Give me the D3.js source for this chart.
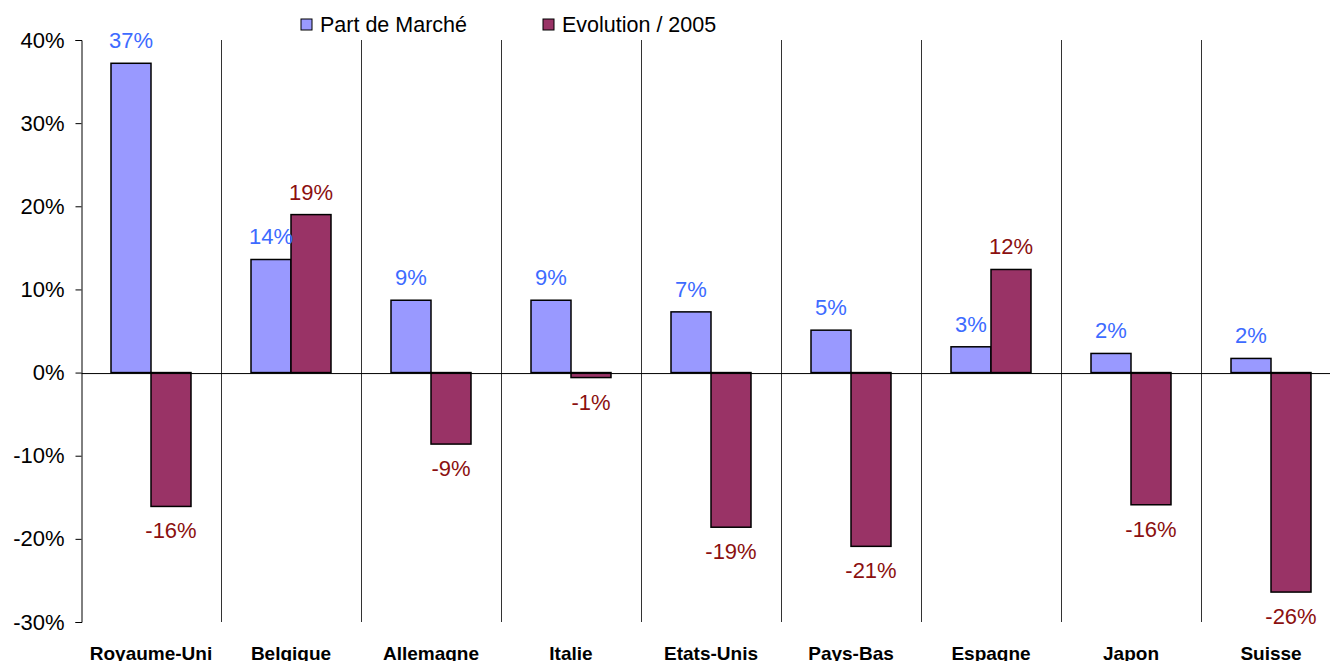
<!DOCTYPE html>
<html>
<head>
<meta charset="utf-8">
<script src="https://cdn.jsdelivr.net/npm/d3@7"></script>
<style>
  body { margin: 0; background: #fff; }
  svg { font-family: "Liberation Sans", Arial, sans-serif; }
</style>
</head>
<body>
<div id="chart"></div>
<script>
const countries = ['Royaume-Uni', 'Belgique', 'Allemagne', 'Italie', 'Etats-Unis', 'Pays-Bas', 'Espagne', 'Japon', 'Suisse'];
const partMarche = [0.372, 0.136, 0.087, 0.087, 0.073, 0.051, 0.031, 0.023, 0.017];
const evolution2005 = [-0.161, 0.190, -0.086, -0.006, -0.186, -0.209, 0.124, -0.159, -0.264];
const seriesNames = ['Part de Marché', 'Evolution / 2005'];
const yTicks = [-0.3, -0.2, -0.1, 0, 0.1, 0.2, 0.3, 0.4];

// plain hyphen instead of the unicode minus d3.format gives
const pct = v => Math.round(v * 100) + '%';

function drawChart() {
    const W = 1330, H = 661;
    const left = 81, right = 1341, top = 40, bottom = 622;
    const colors = ['#9999ff', '#993366'];
    const labelColors = ['#3d6bff', '#8b1010'];

    const svg = d3.select('#chart').append('svg')
      .attr('width', W)
      .attr('height', H);

    const x = d3.scaleBand().domain(countries).range([left, right]);
    const xInner = d3.scaleBand().domain(seriesNames).range([30, 110]);
    const y = d3.scaleLinear().domain([-0.3, 0.4]).range([bottom, top]);

    // category separators
    svg.append('g')
      .selectAll('line')
      .data(countries.slice(1))
      .join('line')
      .attr('x1', d => x(d) + 0.5)
      .attr('x2', d => x(d) + 0.5)
      .attr('y1', top)
      .attr('y2', bottom)
      .attr('stroke', '#333')
      .attr('stroke-width', 1);

    // y axis
    const yAxis = svg.append('g')
      .attr('transform', `translate(${left + 0.5},0)`)
      .call(d3.axisLeft(y).tickValues(yTicks).tickFormat(pct).tickSize(6).tickPadding(11));
    yAxis.selectAll('text').attr('font-size', 22).attr('fill', '#000').attr('font-family', 'Liberation Sans, Arial, sans-serif');
    yAxis.select('.domain').attr('stroke', '#000');

    // bars
    const rows = countries.map((c, i) => ({ country: c, values: [partMarche[i], evolution2005[i]] }));

    const groups = svg.append('g')
      .selectAll('g')
      .data(rows)
      .join('g')
      .attr('transform', d => `translate(${x(d.country)},0)`);

    groups.selectAll('rect')
      .data(d => d.values.map((v, k) => ({ v, k })))
      .join('rect')
      .attr('x', d => xInner(seriesNames[d.k]))
      .attr('width', xInner.bandwidth())
      .attr('y', d => y(Math.max(0, d.v)))
      .attr('height', d => Math.abs(y(d.v) - y(0)))
      .attr('fill', d => colors[d.k])
      .attr('stroke', '#000')
      .attr('stroke-width', 1.5);

    groups.selectAll('text')
      .data(d => d.values.map((v, k) => ({ v, k })))
      .join('text')
      .attr('x', d => xInner(seriesNames[d.k]) + xInner.bandwidth() / 2)
      .attr('y', d => d.v >= 0 ? y(d.v) - 15 : y(d.v) + 32)
      .attr('text-anchor', 'middle')
      .attr('font-size', 22)
      .attr('fill', d => labelColors[d.k])
      .text(d => pct(d.v));

    // zero line
    const zeroAxis = svg.append('g')
      .attr('transform', `translate(0,${y(0) + 0.5})`)
      .call(d3.axisBottom(x).tickSize(0).tickFormat(''));
    zeroAxis.select('.domain').attr('stroke', '#000');

    // category labels
    const catAxis = svg.append('g')
      .attr('transform', `translate(0,${bottom})`)
      .call(d3.axisBottom(x).tickSize(0));
    catAxis.select('.domain').remove();
    catAxis.selectAll('text')
      .attr('y', 38)
      .attr('dy', 0)
      .attr('font-size', 19)
      .attr('font-weight', 'bold')
      .attr('fill', '#000')
      .attr('font-family', 'Liberation Sans, Arial, sans-serif');

    // legend
    const legendX = [301, 543];
    const legend = svg.append('g')
      .selectAll('g')
      .data(seriesNames)
      .join('g')
      .attr('transform', (d, i) => `translate(${legendX[i]},19)`);
    legend.append('rect')
      .attr('width', 11)
      .attr('height', 11)
      .attr('fill', (d, i) => colors[i])
      .attr('stroke', '#000')
      .attr('stroke-width', 1);
    legend.append('text')
      .attr('x', 19)
      .attr('y', 13)
      .attr('font-size', 21.5)
      .attr('fill', '#000')
      .text(d => d);
}

drawChart();
</script>
</body>
</html>
